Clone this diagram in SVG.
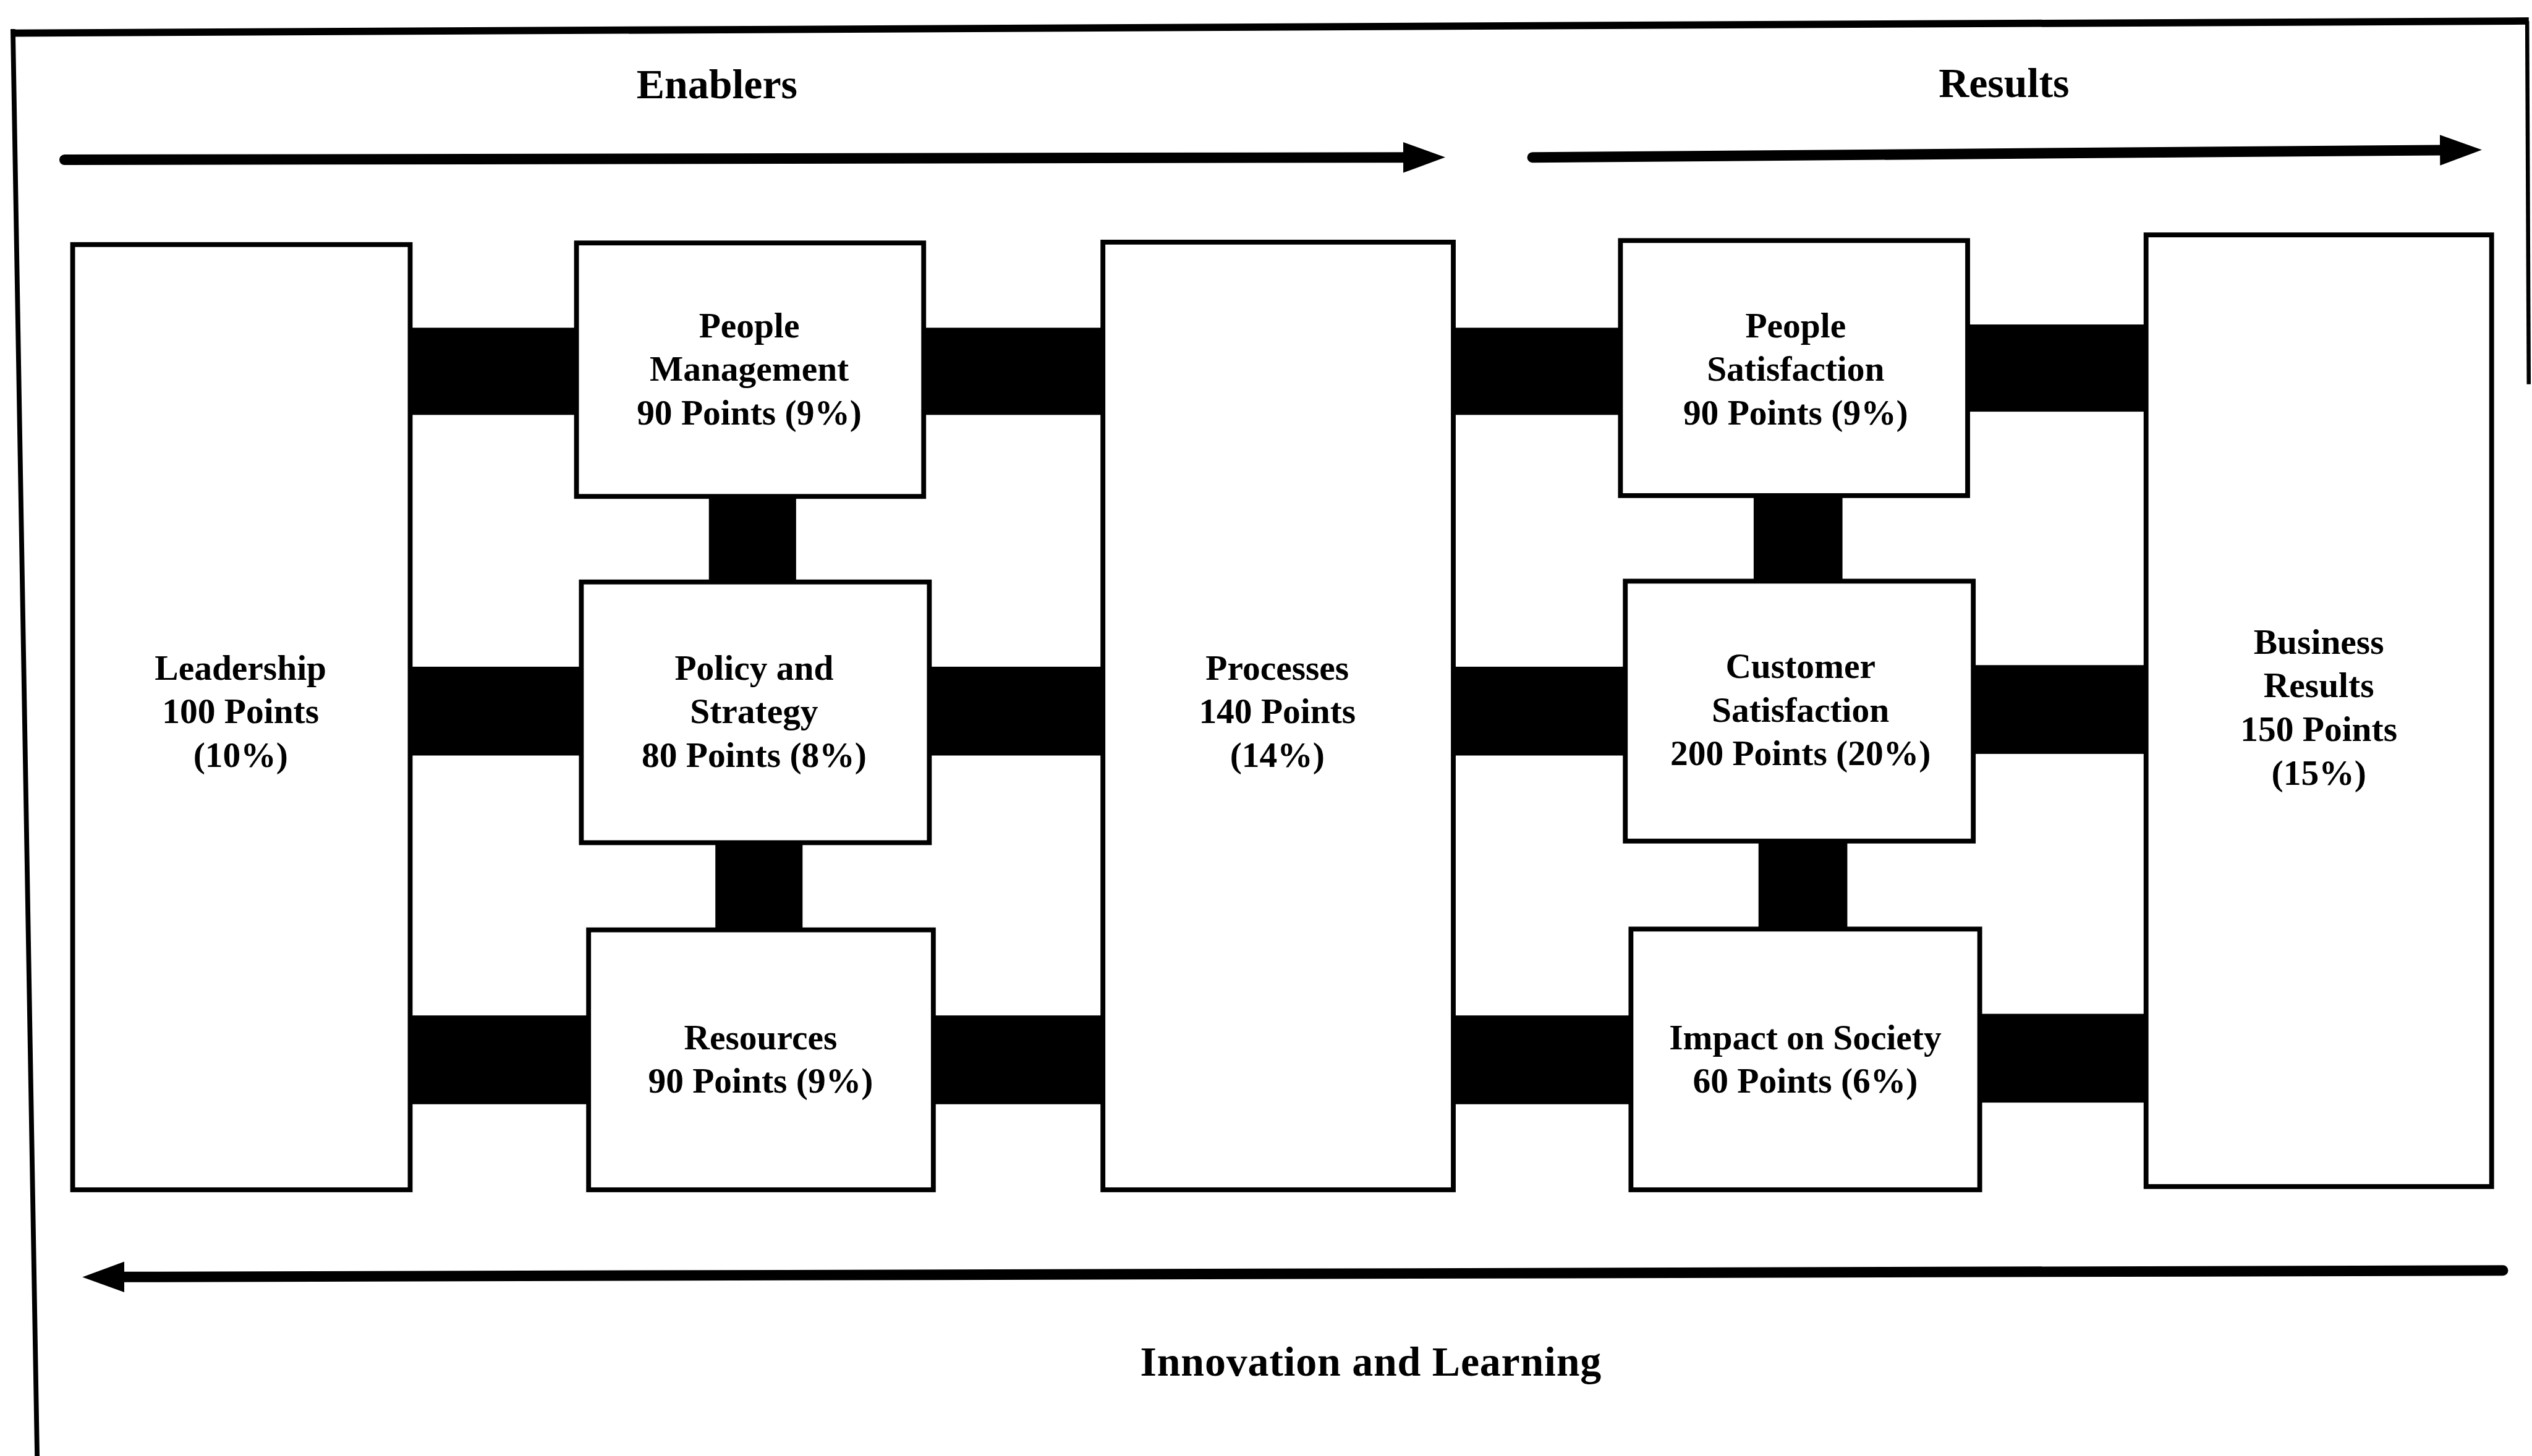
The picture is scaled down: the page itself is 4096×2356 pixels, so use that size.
<svg xmlns="http://www.w3.org/2000/svg" width="4096" height="2356" viewBox="0 0 4096 2356">
  <defs>
    <marker id="head" markerUnits="userSpaceOnUse" markerWidth="26" markerHeight="20" viewBox="0 0 26 20" refX="0" refY="10" orient="auto">
      <path d="M0,0.5 L26,10 L0,19.5 Z" fill="#000"/>
    </marker>
    <style>
      .box { fill: #fff; stroke: #000; stroke-width: 3; }
      .bar { fill: #000; }
      .lbl { font-family: "Liberation Serif", "Times New Roman", serif; font-weight: bold; font-size: 22px; text-anchor: middle; fill: #000; }
      .title { font-family: "Liberation Serif", "Times New Roman", serif; font-weight: bold; font-size: 26px; text-anchor: middle; fill: #000; }
      .flow { fill: none; stroke: #000; stroke-width: 6.5; stroke-linecap: round; marker-end: url(#head); }
      .frame { fill: none; stroke: #000; }
    </style>
  </defs>
  <rect width="4096" height="2356" fill="#fff"/>
  <!-- layout drawn in a 1568 x 902 unit grid, scaled to the canvas -->
  <g transform="scale(2.612245)">
    <!-- outer frame -->
    <g id="frame">
      <line class="frame" x1="7" y1="20.5" x2="1566" y2="13" stroke-width="4.5"/>
      <line class="frame" x1="8" y1="18" x2="23" y2="902" stroke-width="3"/>
      <line class="frame" x1="1565" y1="13" x2="1566" y2="238" stroke-width="2.5"/>
    </g>

    <!-- flow arrows and headings -->
    <g id="enablers">
      <path class="flow" d="M40,99 L869,97.5"/>
      <text class="title" x="444" y="61">Enablers</text>
    </g>
    <g id="results">
      <path class="flow" d="M949,97.5 L1511,93"/>
      <text class="title" x="1241" y="60">Results</text>
    </g>
    <g id="innovation">
      <path class="flow" d="M1550,787 L77,791"/>
      <text class="title" x="849" y="852" style="letter-spacing:0.3px">Innovation and Learning</text>
    </g>

    <!-- links between criteria -->
    <g id="connectors">
      <rect class="bar" x="250" y="203" width="110" height="54"/>
      <rect class="bar" x="568" y="203" width="118" height="54"/>
      <rect class="bar" x="896" y="203" width="111" height="54"/>
      <rect class="bar" x="1215" y="201" width="117" height="54"/>

      <rect class="bar" x="250" y="413" width="114" height="55"/>
      <rect class="bar" x="571" y="413" width="116" height="55"/>
      <rect class="bar" x="895" y="413" width="115" height="55"/>
      <rect class="bar" x="1218" y="412" width="115" height="55"/>

      <rect class="bar" x="250" y="629" width="118" height="55"/>
      <rect class="bar" x="574" y="629" width="113" height="55"/>
      <rect class="bar" x="895" y="629" width="119" height="55"/>
      <rect class="bar" x="1222" y="628" width="111" height="55"/>

      <rect class="bar" x="439" y="304" width="54" height="60"/>
      <rect class="bar" x="443" y="518" width="54" height="62"/>
      <rect class="bar" x="1086" y="303" width="55" height="61"/>
      <rect class="bar" x="1089" y="517" width="55" height="62"/>
    </g>

    <!-- criteria -->
    <g id="leadership">
      <rect class="box" x="45" y="151.5" width="209" height="585.5"/>
      <text class="lbl" x="149" y="421">Leadership</text>
      <text class="lbl" x="149" y="448">100 Points</text>
      <text class="lbl" x="149" y="475">(10%)</text>
    </g>
    <g id="people-management">
      <rect class="box" x="357" y="150.5" width="215" height="157"/>
      <text class="lbl" x="464" y="209">People</text>
      <text class="lbl" x="464" y="236">Management</text>
      <text class="lbl" x="464" y="263">90 Points (9%)</text>
    </g>
    <g id="policy-strategy">
      <rect class="box" x="360" y="360.5" width="215.5" height="161.5"/>
      <text class="lbl" x="467" y="421">Policy and</text>
      <text class="lbl" x="467" y="448">Strategy</text>
      <text class="lbl" x="467" y="475">80 Points (8%)</text>
    </g>
    <g id="resources">
      <rect class="box" x="364.5" y="576" width="213.5" height="161"/>
      <text class="lbl" x="471" y="650">Resources</text>
      <text class="lbl" x="471" y="677">90 Points (9%)</text>
    </g>
    <g id="processes">
      <rect class="box" x="683" y="150" width="217" height="587"/>
      <text class="lbl" x="791" y="421">Processes</text>
      <text class="lbl" x="791" y="448">140 Points</text>
      <text class="lbl" x="791" y="475">(14%)</text>
    </g>
    <g id="people-satisfaction">
      <rect class="box" x="1003.5" y="149" width="215" height="158"/>
      <text class="lbl" x="1112" y="209">People</text>
      <text class="lbl" x="1112" y="236">Satisfaction</text>
      <text class="lbl" x="1112" y="263">90 Points (9%)</text>
    </g>
    <g id="customer-satisfaction">
      <rect class="box" x="1006.5" y="360" width="215.5" height="161"/>
      <text class="lbl" x="1115" y="420">Customer</text>
      <text class="lbl" x="1115" y="447">Satisfaction</text>
      <text class="lbl" x="1115" y="474">200 Points (20%)</text>
    </g>
    <g id="impact-society">
      <rect class="box" x="1010" y="575.5" width="216" height="161.5"/>
      <text class="lbl" x="1118" y="650">Impact on Society</text>
      <text class="lbl" x="1118" y="677">60 Points (6%)</text>
    </g>
    <g id="business-results">
      <rect class="box" x="1329" y="145.5" width="214" height="589.5"/>
      <text class="lbl" x="1436" y="405">Business</text>
      <text class="lbl" x="1436" y="432">Results</text>
      <text class="lbl" x="1436" y="459">150 Points</text>
      <text class="lbl" x="1436" y="486">(15%)</text>
    </g>
  </g>
</svg>
